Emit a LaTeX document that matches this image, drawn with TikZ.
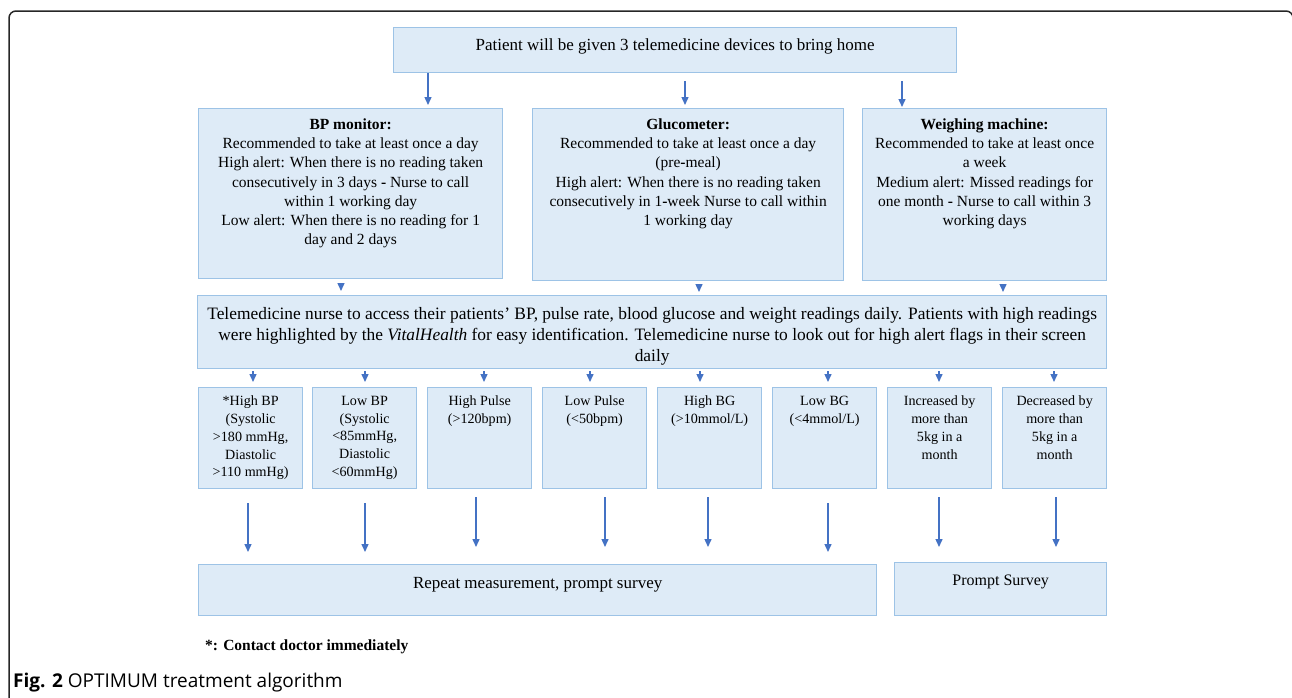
\documentclass[tikz,border=0pt]{standalone}
\usepackage{fontspec}
\setmainfont{Liberation Serif}
\newfontfamily\capfont{Open Sans}
\usetikzlibrary{arrows.meta}
\definecolor{boxfill}{HTML}{DEEBF7}
\definecolor{boxline}{HTML}{9DC3E6}
\definecolor{flowblue}{HTML}{4472C4}
\tikzstyle{block}=[draw=boxline,fill=boxfill,line width=1.3pt,rectangle,inner sep=0pt,anchor=north west]
\tikzstyle{flow}=[flowblue,line width=1.4pt,-{Triangle[length=8pt,width=7pt]}]
\newcommand{\fbig}{\fontsize{17}{20}\selectfont}
\newcommand{\fmid}{\fontsize{15.5}{19.2}\selectfont}
\newcommand{\fwide}{\fontsize{17.4}{21}\selectfont}
\newcommand{\fsmall}{\fontsize{14.1}{17.7}\selectfont}
\newcommand{\boxtext}[4]{\parbox[c][#2][t]{#1}{\vspace*{#3}\centering #4\par}}

\begin{document}
\begin{tikzpicture}[x=1pt,y=-1pt]
    \useasboundingbox (0,0) rectangle (1292,697);
    \begin{scope}
        \clip (0,0) rectangle (1292,697);
        \draw[line width=1.5pt,black!85,rounded corners=7pt] (9,11) rectangle (1293,720);
    \end{scope}
    % devices
    \node[block,font=\fbig] (top) at (393,27) {\boxtext{563pt}{45pt}{11pt}{Patient will be given 3 telemedicine devices to bring home}};
    \node[block,font=\fmid] (bp) at (198,108) {\boxtext{304pt}{170pt}{10pt}{\textbf{BP monitor:}\\ Recommended to take at least once a day\\ High alert: When there is no reading taken\\ consecutively in 3 days \textbf{-} Nurse to call\\ within 1 working day\\ Low alert: When there is no reading for 1\\ day and 2 days}};
    \node[block,font=\fmid] (gl) at (532,108) {\boxtext{311pt}{172pt}{10pt}{\textbf{Glucometer:}\\ Recommended to take at least once a day\\ (pre\textbf{-}meal)\\ High alert: When there is no reading taken\\ consecutively in 1\textbf{-}week Nurse to call within\\ 1 working day}};
    \node[block,font=\fmid] (wm) at (862,108) {\boxtext{244pt}{172pt}{10pt}{\textbf{Weighing machine:}\\ Recommended to take at least once\\ a week\\ Medium alert: Missed readings for\\ one month \textbf{-} Nurse to call within 3\\ working days}};
    \node[block,font=\fwide] (nurse) at (197,295) {\boxtext{909pt}{73pt}{11.5pt}{Telemedicine nurse to access their patients' BP, pulse rate, blood glucose and weight readings daily. Patients with high readings\\ were highlighted by the \textit{VitalHealth} for easy identification. Telemedicine nurse to look out for high alert flags in their screen\\ daily}};
    % readings
    \node[block,font=\fsmall] (hbp) at (198,387) {\boxtext{104pt}{101pt}{8.5pt}{*High BP\\ (Systolic\\ >180 mmHg,\\ Diastolic\\ >110 mmHg)}};
    \node[block,font=\fsmall] (lbp) at (312,387) {\boxtext{104pt}{101pt}{8.5pt}{Low BP\\ (Systolic\\ <85mmHg,\\ Diastolic\\ <60mmHg)}};
    \node[block,font=\fsmall] (hpl) at (427,387) {\boxtext{104pt}{101pt}{8.5pt}{High Pulse\\ (>120bpm)}};
    \node[block,font=\fsmall] (lpl) at (542,387) {\boxtext{104pt}{101pt}{8.5pt}{Low Pulse\\ (<50bpm)}};
    \node[block,font=\fsmall] (hbg) at (657,387) {\boxtext{104pt}{101pt}{8.5pt}{High BG\\ (>10mmol/L)}};
    \node[block,font=\fsmall] (lbg) at (772,387) {\boxtext{104pt}{101pt}{8.5pt}{Low BG\\ (<4mmol/L)}};
    \node[block,font=\fsmall] (inc) at (887,387) {\boxtext{104pt}{101pt}{8.5pt}{Increased by\\ more than\\ 5kg in a\\ month}};
    \node[block,font=\fsmall] (dec) at (1002,387) {\boxtext{104pt}{101pt}{8.5pt}{Decreased by\\ more than\\ 5kg in a\\ month}};
    % actions
    \node[block,font=\fbig] (rep) at (198,564) {\boxtext{678pt}{51pt}{13pt}{Repeat measurement, prompt survey}};
    \node[block,font=\fontsize{16}{19}\selectfont] (psv) at (894,562) {\boxtext{212pt}{53pt}{12.5pt}{Prompt Survey}};
    \node[anchor=west,inner sep=0pt,font=\fmid\bfseries] (note) at (205,647) {*: Contact doctor immediately};
    \node[anchor=west,inner sep=0pt,font=\capfont\fontsize{19}{22}\selectfont] (cap) at (13,683) {\textbf{Fig. 2} OPTIMUM treatment algorithm};
    \draw[flow,shorten >=3pt] (428,0 |- top.south) -- (428,0 |- bp.north);
    \draw[flow,shorten <=8pt,shorten >=3pt] (685,0 |- top.south) -- (685,0 |- gl.north);
    \draw[flow,shorten <=8pt,shorten >=1pt] (902,0 |- top.south) -- (902,0 |- wm.north);
    \draw[flow,shorten <=4pt,shorten >=4pt] (341,0 |- bp.south) -- (341,0 |- nurse.north);
    \draw[flow,shorten <=5pt,shorten >=3pt] (699,0 |- gl.south) -- (699,0 |- nurse.north);
    \draw[flow,shorten <=5pt,shorten >=3pt] (1003,0 |- wm.south) -- (1003,0 |- nurse.north);
    \draw[flow,shorten <=2pt,shorten >=5pt] (253,0 |- nurse.south) -- (253,0 |- hbp.north);
    \draw[flow,shorten <=2pt,shorten >=5pt] (365,0 |- nurse.south) -- (365,0 |- lbp.north);
    \draw[flow,shorten <=2pt,shorten >=5pt] (484,0 |- nurse.south) -- (484,0 |- hpl.north);
    \draw[flow,shorten <=2pt,shorten >=5pt] (590,0 |- nurse.south) -- (590,0 |- lpl.north);
    \draw[flow,shorten <=2pt,shorten >=5pt] (700,0 |- nurse.south) -- (700,0 |- hbg.north);
    \draw[flow,shorten <=2pt,shorten >=5pt] (828,0 |- nurse.south) -- (828,0 |- lbg.north);
    \draw[flow,shorten <=2pt,shorten >=5pt] (939,0 |- nurse.south) -- (939,0 |- inc.north);
    \draw[flow,shorten <=2pt,shorten >=5pt] (1054,0 |- nurse.south) -- (1054,0 |- dec.north);
    \draw[flow,shorten <=14pt,shorten >=12pt] (248,0 |- hbp.south) -- (248,0 |- rep.north);
    \draw[flow,shorten <=14pt,shorten >=12pt] (365,0 |- lbp.south) -- (365,0 |- rep.north);
    \draw[flow,shorten <=8pt,shorten >=17pt] (476,0 |- hpl.south) -- (476,0 |- rep.north);
    \draw[flow,shorten <=8pt,shorten >=17pt] (605,0 |- lpl.south) -- (605,0 |- rep.north);
    \draw[flow,shorten <=8pt,shorten >=17pt] (708,0 |- hbg.south) -- (708,0 |- rep.north);
    \draw[flow,shorten <=14pt,shorten >=12pt] (828,0 |- lbg.south) -- (828,0 |- rep.north);
    \draw[flow,shorten <=8pt,shorten >=15pt] (939,0 |- inc.south) -- (939,0 |- psv.north);
    \draw[flow,shorten <=8pt,shorten >=15pt] (1056,0 |- dec.south) -- (1056,0 |- psv.north);
\end{tikzpicture}
\end{document}
